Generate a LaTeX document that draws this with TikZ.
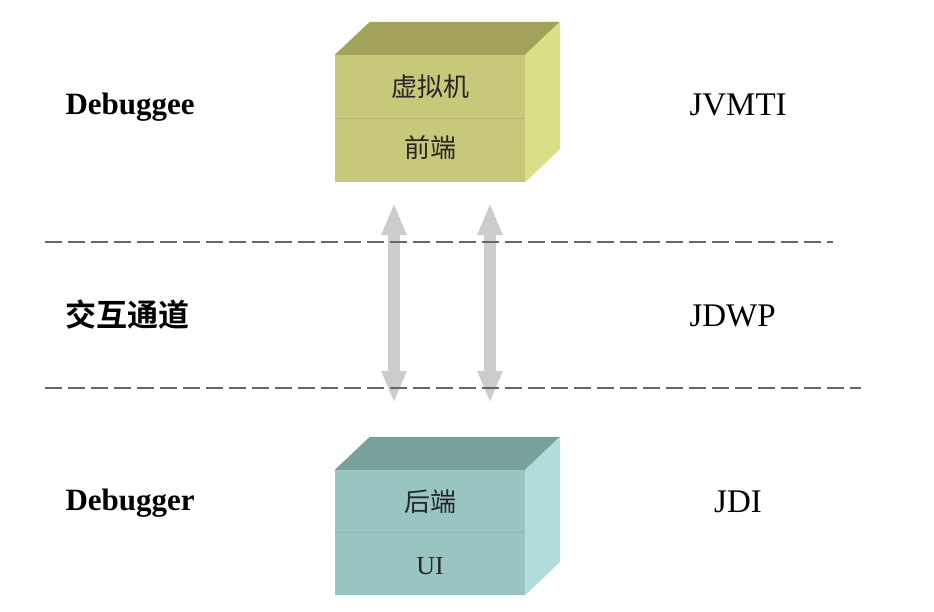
\documentclass[tikz,border=0pt]{standalone}
\usepackage{fontspec}
\setmainfont{Liberation Serif}
\newfontfamily\cjk{Noto Sans CJK SC}[BoldFont={Noto Sans CJK SC Bold}]
\usetikzlibrary{arrows.meta}

\definecolor{vmtop}{RGB}{162,162,92}
\definecolor{vmfront}{RGB}{200,200,122}
\definecolor{vmside}{RGB}{218,222,134}
\definecolor{dbgtop}{RGB}{120,160,156}
\definecolor{dbgfront}{RGB}{152,196,194}
\definecolor{dbgside}{RGB}{178,220,220}

\tikzset{
	face/.style={minimum width=190pt, inner sep=0pt, draw=none},
	boxtext/.style={font=\fontsize{26}{26}\selectfont\cjk, text=black!85},
	side/.style={font=\fontsize{31}{31}\selectfont\bfseries, anchor=west},
	proto/.style={font=\fontsize{33}{33}\selectfont},
	link/.style={line width=12pt, draw=black!20, {Triangle[width=23pt,length=32pt]}-{Triangle[width=23pt,length=32pt]}},
	sep/.style={line width=2.5pt, draw=black!60, dash pattern=on 17pt off 6pt}
}

\begin{document}
\begin{tikzpicture}[x=1pt, y=-1pt]
	\useasboundingbox (0,0) rectangle (934,612);

	\node[face, minimum height=127pt, fill=vmfront] (vm) at (430,118.5) {};
	\fill[vmtop] (vm.north west) -- ++(35,-33) -- ++(190,0) -- (vm.north east) -- cycle;
	\fill[vmside] (vm.north east) -- ++(35,-33) -- ++(0,127) -- (vm.south east) -- cycle;
	\draw[vmtop!80, line width=1pt] (vm.west) -- (vm.east);
	\node[boxtext] (vm1) at (430,87) {虚拟机};
	\node[boxtext] (vm2) at (430,148) {前端};

	\node[face, minimum height=125pt, fill=dbgfront] (dbg) at (430,532.5) {};
	\fill[dbgtop] (dbg.north west) -- ++(35,-33) -- ++(190,0) -- (dbg.north east) -- cycle;
	\fill[dbgside] (dbg.north east) -- ++(35,-33) -- ++(0,125) -- (dbg.south east) -- cycle;
	\draw[dbgtop!80, line width=1pt] (dbg.west) -- (dbg.east);
	\node[boxtext] (dbg1) at (430,502) {后端};
	\node[boxtext, font=\fontsize{26}{26}\selectfont] (dbg2) at (430,566) {UI};

	\foreach \i/\x in {1/394,2/490} {
		\coordinate (up\i) at (\x,203);
		\coordinate (dn\i) at (\x,403);
		\draw[link] (up\i) -- (dn\i);
	}

	\coordinate (s1a) at (45,242);
	\coordinate (s1b) at (833,242);
	\coordinate (s2a) at (45,388);
	\coordinate (s2b) at (861,388);
	\draw[sep] (s1a) -- (s1b);
	\draw[sep] (s2a) -- (s2b);

	\node[side] (ee) at (62,107) {Debuggee};
	\node[side, font=\fontsize{31}{31}\selectfont\cjk\bfseries] (ch) at (62,315) {交互通道};
	\node[side] (er) at (62,503) {Debugger};

	\node[proto, anchor=west] (jvmti) at (686,105) {JVMTI};
	\node[proto, anchor=west] (jdwp) at (686,316) {JDWP};
	\node[proto] (jdi) at (738,502) {JDI};
\end{tikzpicture}
\end{document}
